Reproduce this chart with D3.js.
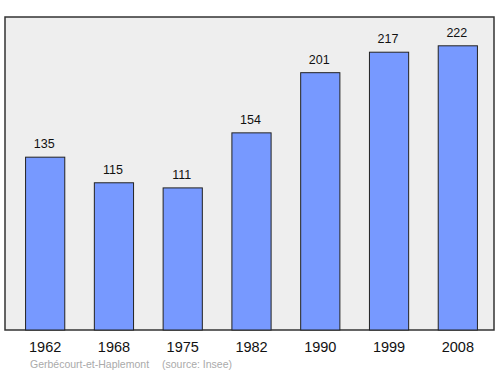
<!DOCTYPE html>
<html>
<head>
<meta charset="utf-8">
<script src="https://cdn.jsdelivr.net/npm/d3@7"></script>
<style>
  body { margin: 0; background: #fff; }
  svg { display: block; font-family: "Liberation Sans", Arial, sans-serif; }
</style>
</head>
<body>
<svg id="chart" width="500" height="374"></svg>
<script>
// population par année
const years = ['1962', '1968', '1975', '1982', '1990', '1999', '2008'];
const population = [135, 115, 111, 154, 201, 217, 222];
const commune = 'Gerbécourt-et-Haplemont';
const source = '(source: Insee)';

const svg = d3.select('#chart');
const box = { left: 5, top: 17, right: 494, bottom: 330 };

// cadre
svg.append('rect')
  .attr('x', box.left).attr('y', box.top)
  .attr('width', box.right - box.left).attr('height', box.bottom - box.top)
  .attr('fill', '#eeeeee').attr('stroke', '#333').attr('stroke-width', 1.5);

const x = d3.scaleBand()
  .domain(years)
  .range([box.left + 2, box.right + 2])
  .paddingInner(0.43).paddingOuter(0.27);

const y = d3.scaleLinear()
  .domain([0, 244.5])
  .range([box.bottom, box.top]);

// barres
svg.append('g')
  .selectAll('rect')
  .data(population)
  .join('rect')
  .attr('x', (d, i) => x(years[i]))
  .attr('y', d => y(d))
  .attr('width', x.bandwidth())
  .attr('height', d => y(0) - y(d))
  .attr('fill', '#7799ff').attr('stroke', '#222').attr('stroke-width', 1);

// valeurs
svg.append('g')
  .selectAll('text')
  .data(population)
  .join('text')
  .attr('x', (d, i) => x(years[i]) + x.bandwidth() / 2 - 1)
  .attr('y', d => y(d) - 9)
  .attr('text-anchor', 'middle')
  .attr('font-size', 12.5)
  .attr('fill', '#111')
  .text(d => d);

// années
const axis = d3.axisBottom(x).tickSize(0).tickPadding(12);
const ax = svg.append('g').attr('transform', `translate(0,${box.bottom})`).call(axis);
ax.select('.domain').remove();
ax.selectAll('text').attr('font-size', 14.5).attr('fill', '#111')
  .attr('font-family', '"Liberation Sans", Arial, sans-serif');

// source
svg.append('text').attr('x', 30).attr('y', 368)
  .attr('font-size', 10.5).attr('fill', '#aaa').text(commune);
svg.append('text').attr('x', 162).attr('y', 368)
  .attr('font-size', 10.5).attr('fill', '#aaa').text(source);
</script>
</body>
</html>
